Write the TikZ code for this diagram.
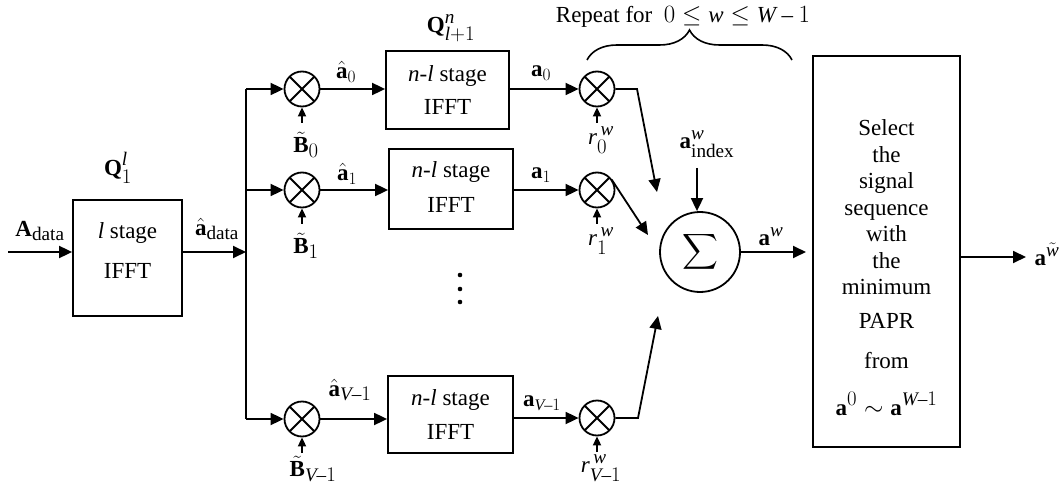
\documentclass[tikz,border=0pt]{standalone}
\usepackage{amsmath}
\usepackage{fontspec}
\setmainfont{Liberation Serif}
\usepackage[italic]{mathastext}
\usetikzlibrary{arrows.meta,decorations.pathreplacing}
\begin{document}
\begin{tikzpicture}[x=1pt,y=-1pt,
  every node/.style={font=\fontsize{23}{27}\selectfont, inner sep=0pt},
  lw/.style={line width=1.8pt},
  arr/.style={lw, -{Triangle[length=13pt,width=12pt]}},
  sarr/.style={lw, -{Triangle[length=9pt,width=8pt]}},
  blk/.style={draw, line width=1.8pt},
  txt/.style={anchor=base},
  mult/.style={circle, draw, line width=1.8pt, minimum size=35pt, inner sep=0pt,
    path picture={\draw[line width=1.8pt] (path picture bounding box.north west) -- (path picture bounding box.south east)
      (path picture bounding box.north east) -- (path picture bounding box.south west);}}]
\useasboundingbox (0,0) rectangle (1064,494);

% first IFFT block
\node[blk, minimum width=109pt, minimum height=116pt] (q1) at (127.5,258) {};
\node[txt] (q1a) at (127.5,238) {\textit{l} stage};
\node[txt] (q1b) at (127.5,278) {IFFT};
\node (q1l) at (118,168) {$\mathbf{Q}_{1}^{l}$};
\node (ain) at (40,231) {$\mathbf{A}_{\text{data}}$};
\node (ahd) at (217,229) {$\hat{\mathbf{a}}_{\text{data}}$};
\coordinate (start) at (8,252);
\coordinate (bj) at (246,252);
\coordinate (bt) at (246,89);
\coordinate (bm) at (246,190);
\coordinate (bb) at (246,419);
\draw[arr] (start) -- (start -| q1.west);
\draw[arr] (q1.east |- bj) -- (bj);
\draw[lw] (bt) -- (bb);

% multipliers (first column)
\node[mult] (m0) at (302,89) {};
\node[mult] (m1) at (302,190) {};
\node[mult] (m2) at (302,419) {};
\draw[arr] (bt) -- (m0.west);
\draw[arr] (bm) -- (m1.west);
\draw[arr] (bb) -- (m2.west);
\coordinate (bin0) at (302,123);
\coordinate (bin1) at (302,224);
\coordinate (bin2) at (302,453);
\draw[sarr] (bin0) -- (m0.south);
\draw[sarr] (bin1) -- (m1.south);
\draw[sarr] (bin2) -- (m2.south);
\node (B0) at (306,145) {$\tilde{\mathbf{B}}_{0}$};
\node (B1) at (306,246) {$\tilde{\mathbf{B}}_{1}$};
\node (B2) at (313,469) {$\tilde{\mathbf{B}}_{V-1}$};

% n-l IFFT blocks
\node[blk, minimum width=123pt, minimum height=78pt] (b0) at (447.5,90) {};
\node[blk, minimum width=124pt, minimum height=80pt] (b1) at (451,189) {};
\node[blk, minimum width=125pt, minimum height=77pt] (b2) at (450.5,414.5) {};
\node[txt] (b0a) at (447.5,82) {\textit{n}-\textit{l} stage};
\node[txt] (b0b) at (447.5,115) {IFFT};
\node[txt] (b1a) at (451,178) {\textit{n}-\textit{l} stage};
\node[txt] (b1b) at (451,213) {IFFT};
\node[txt] (b2a) at (450.5,405) {\textit{n}-\textit{l} stage};
\node[txt] (b2b) at (450.5,439) {IFFT};
\node (qn) at (451,28) {$\mathbf{Q}_{l+1}^{n}$};
\draw[arr] (m0.east) -- (b0.west |- m0.east);
\draw[arr] (m1.east) -- (b1.west |- m1.east);
\draw[arr] (m2.east) -- (b2.west |- m2.east);
\node (ah0) at (346,72) {$\hat{\mathbf{a}}_{\scriptscriptstyle 0}$};
\node (ah1) at (347,174) {$\hat{\mathbf{a}}_{\scriptscriptstyle 1}$};
\node (ah2) at (350,390) {$\hat{\mathbf{a}}_{V-1}$};

% dots
\foreach \yy in {275,289,302} \fill (460,\yy) circle (2.3);

% second multipliers
\node[mult] (r0) at (597,89) {};
\node[mult] (r1) at (597,190) {};
\node[mult] (r2) at (597,418) {};
\draw[arr] (b0.east |- r0.west) -- (r0.west);
\draw[arr] (b1.east |- r1.west) -- (r1.west);
\draw[arr] (b2.east |- r2.west) -- (r2.west);
\node (a0) at (541,73) {$\mathbf{a}_{\scriptscriptstyle 0}$};
\node (a1) at (541,175) {$\mathbf{a}_{\scriptscriptstyle 1}$};
\node (a2) at (542,403) {$\mathbf{a}_{\scriptscriptstyle V-1}$};
\coordinate (rin0) at (597,123);
\coordinate (rin1) at (597,224);
\coordinate (rin2) at (597,452);
\draw[sarr] (rin0) -- (r0.south);
\draw[sarr] (rin1) -- (r1.south);
\draw[sarr] (rin2) -- (r2.south);
\node (rl0) at (601,140) {$r_{0}^{\,w}$};
\node (rl1) at (601,241) {$r_{1}^{\,w}$};
\node (rl2) at (601,468) {$r_{V-1}^{\,w}$};

% sum
\node[circle, draw, line width=1.8pt, minimum size=80pt, inner sep=0pt] (sum) at (700,252) {\fontsize{29}{32}\selectfont$\displaystyle\sum$};
\coordinate (k0) at (637,89);
\coordinate (t0) at (657,192);
\coordinate (t1) at (648,235);
\coordinate (k2) at (638,418);
\coordinate (t2) at (658,316);
\draw[arr] (r0.east) -- (k0) -- (t0);
\draw[arr] (r1) ++(-35:18) -- (t1);
\draw[arr] (r2.east) -- (k2) -- (t2);
\node (aidx) at (707,144) {$\mathbf{a}_{\text{index}}^{w}$};
\coordinate (ix) at (697,168);
\draw[arr] (ix) -- (ix |- sum.north);
\node (aw) at (771,237) {$\mathbf{a}^{w}$};
\coordinate (selin) at (806,252);
\draw[arr] (sum.east) -- (selin);

% select block
\node[blk, minimum width=147pt, minimum height=391pt] (sel) at (886.5,251.5) {};
\node[txt] (s1) at (886.5,136) {Select};
\node[txt] (s2) at (886.5,163) {the};
\node[txt] (s3) at (886.5,189) {signal};
\node[txt] (s4) at (886.5,215) {sequence};
\node[txt] (s5) at (886.5,241) {with};
\node[txt] (s6) at (886.5,268) {the};
\node[txt] (s7) at (886.5,294) {minimum};
\node[txt] (s8) at (886.5,328) {PAPR};
\node[txt] (s9) at (886.5,368) {from};
\node[txt] (s10) at (886.5,415) {$\mathbf{a}^{0}\sim\mathbf{a}^{W-1}$};
\coordinate (out) at (1026,257);
\draw[arr] (sel.east |- out) -- (out);
\node (aout) at (1047,254) {$\mathbf{a}^{\tilde{w}}$};

% brace
\draw[line width=1.6pt, decorate, decoration={brace, amplitude=30pt}] (587,60) -- (792,60);
\node (rep) at (683,17) {Repeat for\ \ $0\le w\le W-1$};
\end{tikzpicture}
\end{document}
